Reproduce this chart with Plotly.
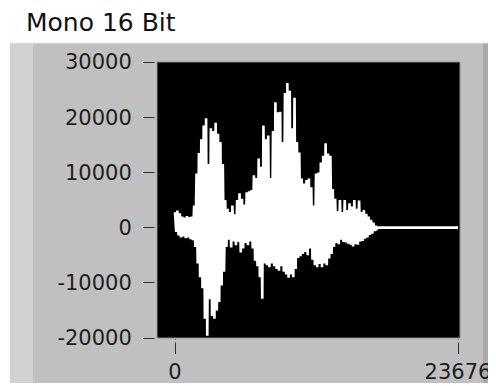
import plotly.graph_objects as go

# ---------------- data ----------------
title_text = "Mono 16 Bit"
last_sample = 23676          # index of the last sample (x-axis max tick)
env_step = 200               # samples per envelope column

# upper / lower envelope of the waveform, one value per column of env_step samples
upper = [2800, 3100, 2600, 2000, 1800, 2100, 1900, 2000, 4000, 9800,
         13500, 16000, 18500, 19800, 11500, 18000, 17500, 19000, 17000, 15500,
         11500, 5000, 3400, 2800, 4000, 2400, 5000, 6200, 5200, 4200,
         6400, 6600, 6800, 9500, 9000, 12500, 11000, 18500, 16000, 16700,
         9000, 17500, 22700, 20900, 21000, 15500, 24400, 26200, 24800, 18000,
         23500, 15500, 13600, 8900, 8000, 8600, 8900, 7300, 4000, 9800,
         10000, 11800, 13000, 15300, 13400, 13000, 7000, 5200, 3000, 5000,
         2800, 5000, 3200, 4400, 3800, 5000, 3400, 4900, 2800, 3200,
         2500, 2000, 1400, 900, 300]
lower = [-800, -1400, -1800, -1600, -1900, -1800, -2100, -2300, -3500, -6500,
         -9000, -11000, -16500, -19600, -13000, -16000, -16500, -15000, -13500, -10500,
         -8000, -3500, -2200, -3600, -2500, -3200, -2600, -4500, -3800, -2800,
         -3200, -2500, -3800, -6000, -7000, -9000, -12900, -6500, -6800, -7200,
         -6500, -7000, -7500, -7800, -7000, -8000, -8500, -9100, -8500, -9000,
         -7500, -5500, -5200, -4800, -4400, -5000, -3800, -5800, -6800, -7200,
         -6600, -7200, -6500, -6800, -5600, -4800, -3500, -2800, -3000, -2200,
         -2600, -2700, -2900, -3100, -3400, -3000, -3100, -2500, -2400, -2000,
         -1800, -1300, -1100, -600, -200]

x_tick_vals = [0, last_sample]
x_tick_text = ["0", "23676"]
y_tick_vals = [-20000, -10000, 0, 10000, 20000, 30000]
y_tick_text = ["-20000", "-10000", "0", "10000", "20000", "30000"]
x_range = [-1506, 23843]
y_range = [-20000, 30000]

# build waveform path: alternate between upper and lower envelope
xs, ys = [], []
for i, (u, l) in enumerate(zip(upper, lower)):
    xs += [i * env_step, i * env_step + env_step / 2]
    ys += [u, l]
xs += [len(upper) * env_step, last_sample]
ys += [0, 0]

# ---------------- layout geometry (pixels) ----------------
# the page body adds an 8px margin, so the figure is drawn 8px in/down
OFF = 8
W, H = 496 - OFF, 386 - OFF
L, R, T, B = 157 - OFF, 460 - OFF, 62 - OFF, 338 - OFF


def px_x(p):
    p -= OFF
    return (p - L) / (R - L)


def px_y(p):
    p -= OFF
    return (B - p) / (B - T)


fig = go.Figure()
fig.add_trace(go.Scatter(
    x=xs, y=ys, mode="lines",
    line=dict(color="white", width=2.6),
    hoverinfo="skip", showlegend=False))

PANEL = "#c0c0c0"
shapes = [
    # grey panel
    dict(type="rect", xref="paper", yref="paper", layer="below",
         x0=px_x(10), x1=px_x(500), y0=px_y(383), y1=px_y(43),
         fillcolor=PANEL, line=dict(width=0)),
    # lighter left strip
    dict(type="rect", xref="paper", yref="paper", layer="below",
         x0=px_x(10), x1=px_x(33), y0=px_y(383), y1=px_y(43),
         fillcolor="#d2d2d2", line=dict(width=0)),
    # darker right strip
    dict(type="rect", xref="paper", yref="paper", layer="below",
         x0=px_x(483), x1=px_x(500), y0=px_y(383), y1=px_y(43),
         fillcolor="#a9a9a9", line=dict(width=0)),
    # top highlight line
    dict(type="line", xref="paper", yref="paper", layer="below",
         x0=px_x(10), x1=px_x(500), y0=px_y(43), y1=px_y(43),
         line=dict(color="#e6e6e6", width=1)),
    # black plot area
    dict(type="rect", xref="paper", yref="paper", layer="below",
         x0=0, x1=1, y0=0, y1=1,
         fillcolor="black", line=dict(color="#8a8a8a", width=1)),
    # small gaps between tick marks and the plot frame
    dict(type="rect", xref="paper", yref="paper", layer="above",
         x0=px_x(154.6), x1=px_x(156.4), y0=px_y(345), y1=px_y(55),
         fillcolor=PANEL, line=dict(width=0)),
    dict(type="rect", xref="paper", yref="paper", layer="above",
         x0=px_x(165), x1=px_x(470), y0=px_y(342.5), y1=px_y(339.4),
         fillcolor=PANEL, line=dict(width=0)),
]

font_family = "DejaVu Sans"
fig.update_layout(
    width=W, height=H,
    margin=dict(l=L, r=W - R, t=T, b=H - B, pad=0, autoexpand=False),
    paper_bgcolor="white",
    plot_bgcolor="black",
    shapes=shapes,
    title=dict(text=title_text, xref="container", yref="container",
               x=(26 - OFF) / W, xanchor="left", y=1 - (22 - OFF) / H,
               yanchor="middle",
               automargin=False, pad=dict(l=0, r=0, t=0, b=0),
               font=dict(family=font_family, size=25, color="#111111")),
    xaxis=dict(range=x_range, tickmode="array", tickvals=x_tick_vals,
               ticktext=x_tick_text, ticks="outside", ticklen=15,
               tickwidth=1.3, tickcolor="#303030", showgrid=False,
               zeroline=False, showline=False, ticklabelstandoff=0,
               automargin=False,
               tickfont=dict(family=font_family, size=21, color="#1e1e1e")),
    yaxis=dict(range=y_range, tickmode="array", tickvals=y_tick_vals,
               ticktext=y_tick_text, ticks="outside", ticklen=13,
               tickwidth=1.3, tickcolor="#303030", showgrid=False,
               zeroline=False, showline=False, ticklabelstandoff=7,
               automargin=False,
               tickfont=dict(family=font_family, size=21, color="#1e1e1e")),
)

fig.write_html("out.html")
